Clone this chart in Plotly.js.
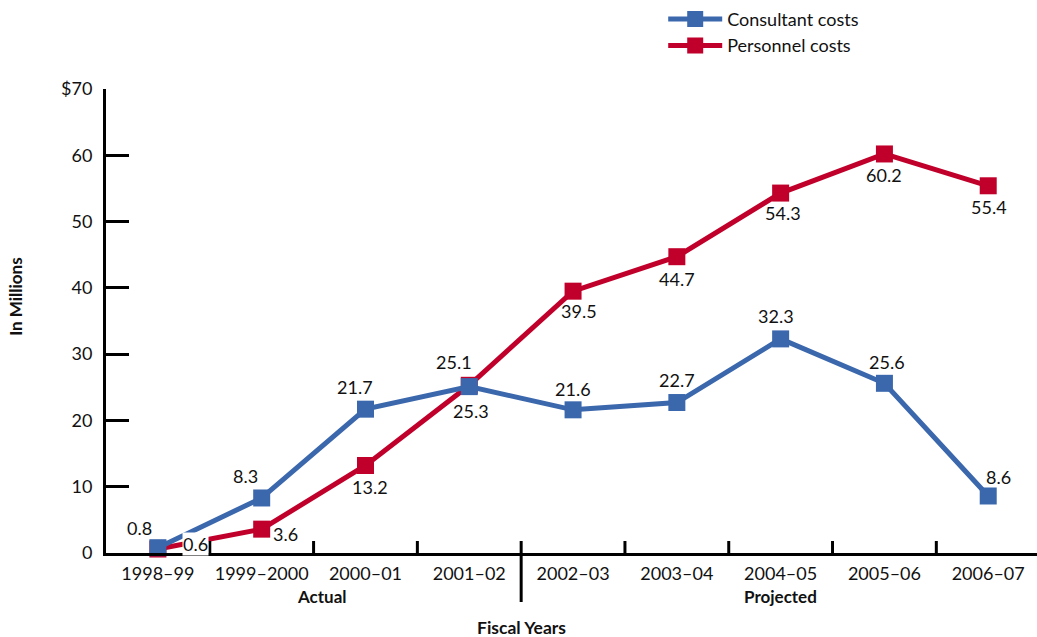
<!DOCTYPE html>
<html>
<head>
<meta charset="utf-8">
<script src="https://cdn.plot.ly/plotly-3.0.1.min.js"></script>
<style>
  html, body { margin: 0; padding: 0; background: #ffffff; }
  #chart { width: 1037px; height: 637px; }
</style>
</head>
<body>
<div id="chart"></div>
<script>
// Fiscal years on the category axis
const fiscalYears = ['1998–99', '1999–2000', '2000–01', '2001–02', '2002–03',
                     '2003–04', '2004–05', '2005–06', '2006–07'];

// Costs in millions of dollars
const consultantCosts = [0.8, 8.3, 21.7, 25.1, 21.6, 22.7, 32.3, 25.6, 8.6];
const personnelCosts  = [0.6, 3.6, 13.2, 25.3, 39.5, 44.7, 54.3, 60.2, 55.4];

// Y-axis tick labels
const yTickValues = [0, 10, 20, 30, 40, 50, 60, 70];
const yTickLabels = ['0', '10', '20', '30', '40', '50', '60', '$70'];

// Period groups under the axis
const periodNames = ['Actual', 'Projected'];

const BLUE = '#3b67ad';
const RED = '#c0002a';
const FONT = 'Lato, "Noto Sans", sans-serif';

// Pixel offsets for each value label (dx, dy), relative to its marker
const consultantLabelShift = [[-18, 20], [-16, 22], [-10, 22], [-15, 25], [0, 21],
                              [0, 23], [-5, 23], [3, 21], [10, 19]];
const personnelLabelShift  = [[38, 5], [24, -5], [5, -21], [2, -26], [6, -20],
                              [0, -22], [2, -20], [0, -21], [1, -21]];

const xIdx = fiscalYears.map((_, i) => i);

const traces = [
  {
    name: 'Personnel costs',
    x: xIdx, y: personnelCosts,
    type: 'scatter', mode: 'lines+markers',
    line: { color: RED, width: 5 },
    marker: { symbol: 'square', size: 17, color: RED },
    cliponaxis: false, legendrank: 2, hoverinfo: 'skip'
  },
  {
    name: 'Consultant costs',
    x: xIdx, y: consultantCosts,
    type: 'scatter', mode: 'lines+markers',
    line: { color: BLUE, width: 5 },
    marker: { symbol: 'square', size: 17, color: BLUE },
    cliponaxis: false, legendrank: 1, hoverinfo: 'skip'
  }
];

function valueLabels(values, shifts, whiteBoxIndex) {
  return values.map((v, i) => ({
    x: i, y: v, xref: 'x', yref: 'y',
    text: v.toFixed(1), showarrow: false,
    xanchor: 'center', yanchor: 'middle',
    xshift: shifts[i][0], yshift: shifts[i][1],
    font: { family: FONT, size: 18, color: '#111111' },
    bgcolor: i === whiteBoxIndex ? '#ffffff' : 'rgba(0,0,0,0)',
    borderpad: 0
  }));
}

const PLOT_W = 931, PLOT_H = 464;   // plot area size in px
const labelFont = size => ({ family: FONT, size: size, color: '#111111' });

const annotations = [
  ...valueLabels(consultantCosts, consultantLabelShift, -1),
  ...valueLabels(personnelCosts, personnelLabelShift, 0),
  {
    x: 1.58, y: -43 / PLOT_H, xref: 'x', yref: 'paper', xanchor: 'center', yanchor: 'middle',
    text: '<b>' + periodNames[0] + '</b>', showarrow: false, font: labelFont(17)
  },
  {
    x: 6, y: -43 / PLOT_H, xref: 'x', yref: 'paper', xanchor: 'center', yanchor: 'middle',
    text: '<b>' + periodNames[1] + '</b>', showarrow: false, font: labelFont(17)
  },
  {
    x: 3.5, y: -74 / PLOT_H, xref: 'x', yref: 'paper', xanchor: 'center', yanchor: 'middle',
    text: '<b>Fiscal Years</b>', showarrow: false, font: labelFont(17.5)
  },
  {
    x: (16 - 106) / PLOT_W, y: 0.552, xref: 'paper', yref: 'paper',
    xanchor: 'center', yanchor: 'middle',
    text: '<b>In Millions</b>', textangle: -90, showarrow: false, font: labelFont(17)
  }
];

const layout = {
  width: 1037, height: 637,
  margin: { l: 106, r: 0, t: 89, b: 84, pad: 0 },
  paper_bgcolor: '#ffffff', plot_bgcolor: '#ffffff',
  font: { family: FONT, size: 18, color: '#111111' },
  showlegend: true,
  legend: {
    x: 0.5985, y: 1.19, xanchor: 'left', yanchor: 'top',
    font: { family: FONT, size: 18, color: '#111111' },
    bgcolor: 'rgba(0,0,0,0)', tracegroupgap: 0,
    itemwidth: 54
  },
  xaxis: {
    type: 'linear',
    range: [-0.5, 8.47],
    tickmode: 'array', tickvals: xIdx, ticktext: fiscalYears,
    ticks: '', showgrid: false, zeroline: false,
    showline: true, linecolor: '#000000', linewidth: 3,
    tickfont: { family: FONT, size: 18, color: '#111111' },
    ticklabelstandoff: 2,
    fixedrange: true
  },
  yaxis: {
    range: [0, 70],
    tickmode: 'array', tickvals: yTickValues, ticktext: yTickLabels,
    ticks: 'inside', ticklen: 23, tickwidth: 3, tickcolor: '#000000',
    showgrid: false, zeroline: false,
    showline: true, linecolor: '#000000', linewidth: 3,
    tickfont: { family: FONT, size: 18, color: '#111111' },
    ticklabelstandoff: 7,
    fixedrange: true
  },
  shapes: [],
  annotations: annotations
};

// Boundary ticks between fiscal years; the actual/projected divider runs below the axis
for (let b = 0.5; b < fiscalYears.length - 1; b += 1) {
  const divider = b === 3.5;
  layout.shapes.push({
    type: 'line', xref: 'x', yref: 'paper',
    x0: b, x1: b, y0: divider ? -49 / PLOT_H : 0, y1: 12 / PLOT_H,
    line: { color: '#000000', width: 3 }
  });
}

Plotly.newPlot('chart', traces, layout, { displayModeBar: false, staticPlot: true });
</script>
</body>
</html>
